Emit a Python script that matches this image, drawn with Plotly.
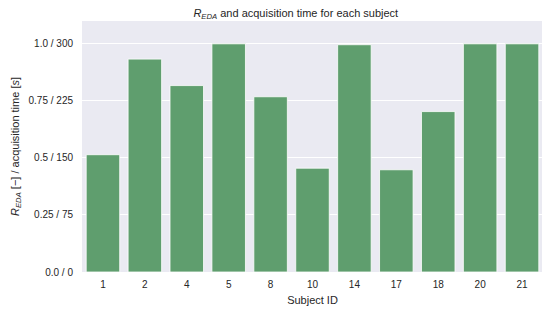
import plotly.graph_objects as go

# subjects and normalised R_EDA / acquisition time
subjects = ['1', '2', '4', '5', '8', '10', '14', '17', '18', '20', '21']
r_eda = [0.514, 0.933, 0.817, 1.0, 0.768, 0.455, 0.996, 0.448, 0.703, 1.0, 1.0]

tick_vals = [0.0, 0.25, 0.5, 0.75, 1.0]
tick_text = ['0.0 / 0', '0.25 / 75', '0.5 / 150', '0.75 / 225', '1.0 / 300']

fig = go.Figure(go.Bar(
    x=subjects, y=r_eda,
    marker=dict(color='#5f9e6e', line=dict(color='white', width=0.8)),
))

# page body adds an 8px margin, so the figure is a bit smaller than the window
fig.update_layout(
    width=542, height=304,
    margin=dict(l=74, r=7, t=13, b=38),
    plot_bgcolor='#eaeaf2', paper_bgcolor='white',
    font=dict(family='Liberation Sans, Arial, sans-serif', size=10, color='#262626'),
    bargap=0.2,
    showlegend=False,
    title=dict(text='<i>R</i><sub><i>EDA</i></sub> and acquisition time for each subject',
               x=0.531, xanchor='center', y=1, yanchor='top', pad=dict(t=1),
               font=dict(size=11)),
)
fig.update_xaxes(type='category', showgrid=False, zeroline=False, ticks='',
                 ticklabelstandoff=5,
                 title=dict(text='Subject ID', font=dict(size=11), standoff=7))
fig.update_yaxes(range=[0, 1.1], tickvals=tick_vals, ticktext=tick_text,
                 gridcolor='white', gridwidth=1, zeroline=False, ticks='',
                 ticklabelstandoff=8,
                 title=dict(text='<i>R</i><sub><i>EDA</i></sub> [−] / acquisition time [<i>s</i>]',
                            font=dict(size=11), standoff=6))

fig.write_html("out.html")
